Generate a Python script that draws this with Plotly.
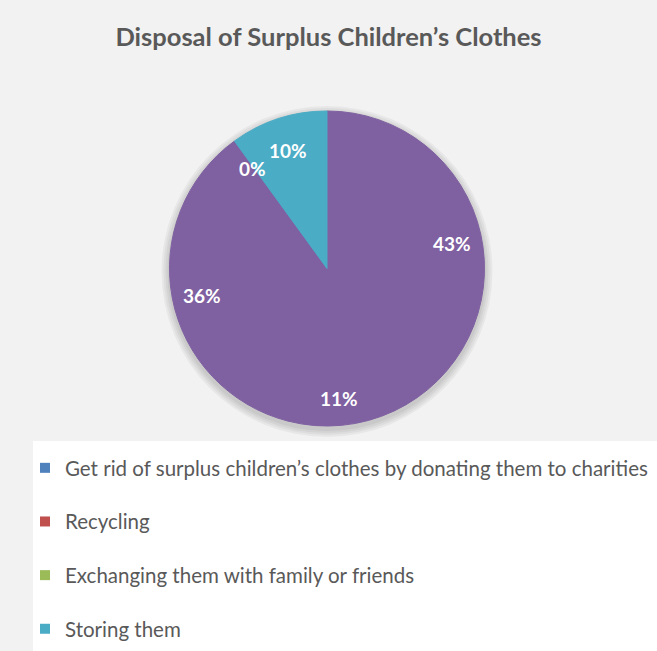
import math
import plotly.graph_objects as go

# Survey answers: how surplus children's clothes are disposed of (percent)
categories = [
    "Get rid of surplus children’s clothes by donating them to charities",
    "Recycling",
    "Exchanging them with family or friends",
    "Other",
    "Storing them",
]
shares = [43, 11, 36, 0, 10]
slice_colors = ["#7F60A1", "#7F60A1", "#7F60A1", "#7F60A1", "#4BACC6"]
legend_colors = ["#4F81BD", "#C0504D", "#9BBB59", "#8064A2", "#4BACC6"]
legend_visible = [True, True, True, False, True]

W, H = 657, 651
FONT = "Lato"
TEXT_GRAY = "#595959"

# pie placement in pixels
pie_left, pie_right, pie_top, pie_bottom = 168, 486, 111, 426
cx = (pie_left + pie_right) / 2
cy = (pie_top + pie_bottom) / 2
R = min(pie_right - pie_left, pie_bottom - pie_top) / 2

fig = go.Figure()

fig.add_trace(go.Pie(
    labels=categories,
    values=shares,
    sort=False,
    direction="clockwise",
    rotation=0,
    marker=dict(colors=slice_colors, line=dict(width=1, color=slice_colors)),
    textinfo="none",
    hoverinfo="label+percent",
    showlegend=False,
    domain=dict(x=[pie_left / W, pie_right / W], y=[1 - pie_bottom / H, 1 - pie_top / H]),
))

# legend entries
for i, (name, col, vis) in enumerate(zip(categories, legend_colors, legend_visible)):
    fig.add_trace(go.Scatter(
        x=[None], y=[None], mode="markers", name=name,
        marker=dict(symbol="square", size=10, color=col),
        showlegend=vis, legendgroup=f"g{i}",
    ))

# percentage labels at the middle angle of each slice
total = sum(shares)
annotations = []
start = 0.0
for v in shares:
    sweep = 360.0 * v / total
    mid = math.radians(start + sweep / 2)
    r = 0.81 * R
    px = cx + r * math.sin(mid)
    py = cy - r * math.cos(mid) + 3
    annotations.append(dict(
        x=px / W, y=1 - py / H, xref="paper", yref="paper",
        xanchor="center", yanchor="middle",
        text=f"{v}%", showarrow=False,
        font=dict(family=FONT, size=19, color="white", weight="bold"),
    ))
    start += sweep

# soft shadow under the pie
shapes = []
for k in range(4):
    grow = 2 + 2 * k
    shapes.append(dict(
        type="circle", xref="paper", yref="paper", layer="below",
        x0=(cx - R - grow) / W, x1=(cx + R + grow) / W,
        y0=1 - (cy + R + grow + 3) / H, y1=1 - (cy - R - grow + 3) / H,
        fillcolor="black", opacity=0.045, line=dict(width=0),
    ))
# white legend panel
shapes.append(dict(
    type="rect", xref="paper", yref="paper", layer="below",
    x0=33 / W, x1=1.0, y0=0, y1=1 - 441 / H,
    fillcolor="white", line=dict(width=0),
))

fig.update_layout(
    width=W, height=H,
    margin=dict(l=0, r=0, t=0, b=0, autoexpand=False),
    paper_bgcolor="#F2F2F2",
    plot_bgcolor="rgba(0,0,0,0)",
    title=dict(
        text="Disposal of Surplus Children’s Clothes",
        x=0.5, xanchor="center", y=1 - 37 / H, yanchor="middle",
        font=dict(family=FONT, size=25.5, color=TEXT_GRAY, weight="bold"),
    ),
    xaxis=dict(visible=False),
    yaxis=dict(visible=False),
    legend=dict(
        x=25 / W, xanchor="left", y=1 - 448 / H, yanchor="top",
        bgcolor="rgba(0,0,0,0)",
        font=dict(family=FONT, size=20.5, color=TEXT_GRAY),
        traceorder="grouped", tracegroupgap=24,
        itemclick=False,
    ),
    annotations=annotations,
    shapes=shapes,
)

fig.write_html("out.html")
